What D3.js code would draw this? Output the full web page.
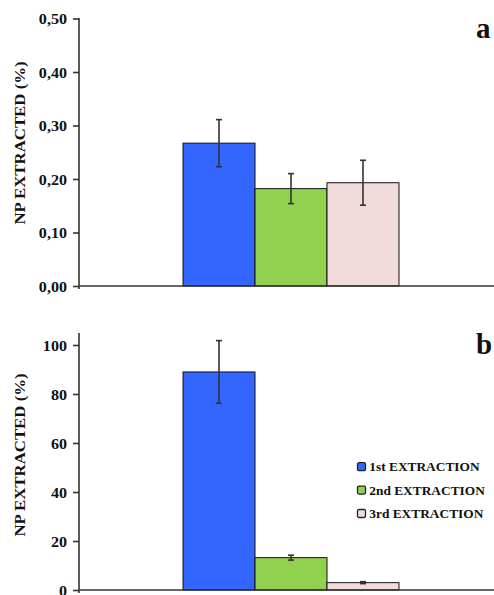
<!DOCTYPE html>
<html>
<head>
<meta charset="utf-8">
<script src="https://cdn.jsdelivr.net/npm/d3@7"></script>
<style>
  body { margin: 0; background: #fff; }
  svg { display: block; }
  svg text { font-family: "Liberation Serif", "Times New Roman", Times, "DejaVu Serif", serif !important; font-weight: bold; fill: #111; }
</style>
</head>
<body>
<svg id="chart" width="494" height="595"></svg>
<script>
// ---- data ----
const series = ["1st EXTRACTION", "2nd EXTRACTION", "3rd EXTRACTION"];
const colors = ["#3366FF", "#92D050", "#F2DCDB"];
const groups = ["sample"];
// panel a
const valuesA = [0.267, 0.182, 0.193];
const errorsA = [0.044, 0.028, 0.042];
const ticksA = [0, 0.1, 0.2, 0.3, 0.4, 0.5];
const tickLabelsA = ["0,00", "0,10", "0,20", "0,30", "0,40", "0,50"];
// panel b
const valuesB = [89.0, 13.2, 3.0];
const errorsB = [12.8, 1.0, 0.4];
const ticksB = [0, 20, 40, 60, 80, 100];
const tickLabelsB = ["0", "20", "40", "60", "80", "100"];
const yLabel = "NP EXTRACTED (%)";
const panelLetters = ["a", "b"];

const FONT = '"Liberation Serif", "Times New Roman", Times, serif';
const svg = d3.select("#chart");
const axisColor = "#333";

const x0 = d3.scaleBand().domain(groups).range([88, 494]).paddingOuter(0.44).paddingInner(0);
const x1 = d3.scaleBand().domain(series).range([0, x0.bandwidth()]).padding(0);

function panel(cfg) {
  const g = svg.append("g");
  const y = d3.scaleLinear().domain(cfg.domain).range([cfg.bottom, cfg.top]);

  // bars
  const grp = g.append("g").attr("transform", `translate(${x0(groups[0])},0)`);
  grp.selectAll("rect").data(cfg.values).join("rect")
    .attr("x", (d, i) => x1(series[i]))
    .attr("width", x1.bandwidth())
    .attr("y", d => y(d))
    .attr("height", d => y(0) - y(d))
    .attr("fill", (d, i) => colors[i])
    .attr("stroke", "#111").attr("stroke-width", 1);

  // error bars
  const eb = grp.selectAll("g.err").data(cfg.values).join("g").attr("class", "err");
  eb.append("line")
    .attr("x1", (d, i) => x1(series[i]) + x1.bandwidth() / 2)
    .attr("x2", (d, i) => x1(series[i]) + x1.bandwidth() / 2)
    .attr("y1", (d, i) => y(d + cfg.errors[i]))
    .attr("y2", (d, i) => y(d - cfg.errors[i]))
    .attr("stroke", axisColor).attr("stroke-width", 1.6);
  [1, -1].forEach(s => {
    eb.append("line")
      .attr("x1", (d, i) => x1(series[i]) + x1.bandwidth() / 2 - 3)
      .attr("x2", (d, i) => x1(series[i]) + x1.bandwidth() / 2 + 3)
      .attr("y1", (d, i) => y(d + s * cfg.errors[i]))
      .attr("y2", (d, i) => y(d + s * cfg.errors[i]))
      .attr("stroke", axisColor).attr("stroke-width", 1.6);
  });

  // x axis baseline
  g.append("line").attr("x1", 79).attr("x2", 494)
    .attr("y1", y(0)).attr("y2", y(0))
    .attr("stroke", axisColor).attr("stroke-width", 1.6);

  // y axis
  const axis = d3.axisLeft(y).tickValues(cfg.ticks).tickSize(6).tickPadding(6)
    .tickFormat((d, i) => cfg.tickLabels[i]);
  const ag = g.append("g").attr("transform", "translate(79,0)").call(axis)
    .attr("font-family", FONT);
  ag.select(".domain").attr("stroke", axisColor).attr("stroke-width", 1.6)
    .attr("d", `M0,${cfg.axisTop}V${y(0) + 3}`);
  ag.selectAll(".tick line").attr("stroke", axisColor).attr("stroke-width", 1.6);
  ag.selectAll(".tick text")
    .attr("font-family", FONT)
    .attr("font-weight", "bold").attr("font-size", 14).attr("fill", "#111")
    .attr("dy", "0.36em")
    .attr("transform", function () {
      const xx = +d3.select(this).attr("x");
      return `translate(${xx},0) scale(1.15,1) translate(${-xx},0)`;
    });

  // y label
  const cy = (cfg.labelTop + cfg.labelBottom) / 2;
  g.append("text")
    .attr("font-family", FONT)
    .attr("transform", `translate(25,${cy}) rotate(-90) scale(1.2,1)`)
    .attr("text-anchor", "middle")
    .attr("font-size", 14)
    .text(yLabel);

  // panel letter
  g.append("text")
    .attr("font-family", FONT)
    .attr("x", cfg.letterX).attr("y", cfg.letterY)
    .attr("font-size", 29)
    .text(cfg.letter);
  return { g, y };
}

panel({
  domain: [0, 0.5], top: 18.5, bottom: 286, axisTop: 18,
  values: valuesA, errors: errorsA, ticks: ticksA, tickLabels: tickLabelsA,
  labelTop: 60, labelBottom: 226, letter: panelLetters[0], letterX: 476, letterY: 38
});

panel({
  domain: [0, 100], top: 590 - 100 * 2.45, bottom: 590, axisTop: 333,
  values: valuesB, errors: errorsB, ticks: ticksB, tickLabels: tickLabelsB,
  labelTop: 373, labelBottom: 537, letter: panelLetters[1], letterX: 476, letterY: 354
});

// legend
const legY = d3.scalePoint().domain(series).range([466.7, 513.5]);
const leg = svg.append("g");
const li = leg.selectAll("g").data(series).join("g")
  .attr("transform", d => `translate(357,${legY(d)})`);
li.append("rect").attr("x", 0.5).attr("y", -4).attr("width", 8).attr("height", 8)
  .attr("rx", 1.5)
  .attr("fill", (d, i) => colors[i]).attr("stroke", "#222").attr("stroke-width", 1.3);
li.append("text").attr("x", 11.5).attr("dy", "0.36em")
  .attr("font-family", FONT)
  .attr("font-size", 12.5)
  .attr("transform", "scale(1.07,1)")
  .text(d => d);
</script>
</body>
</html>
